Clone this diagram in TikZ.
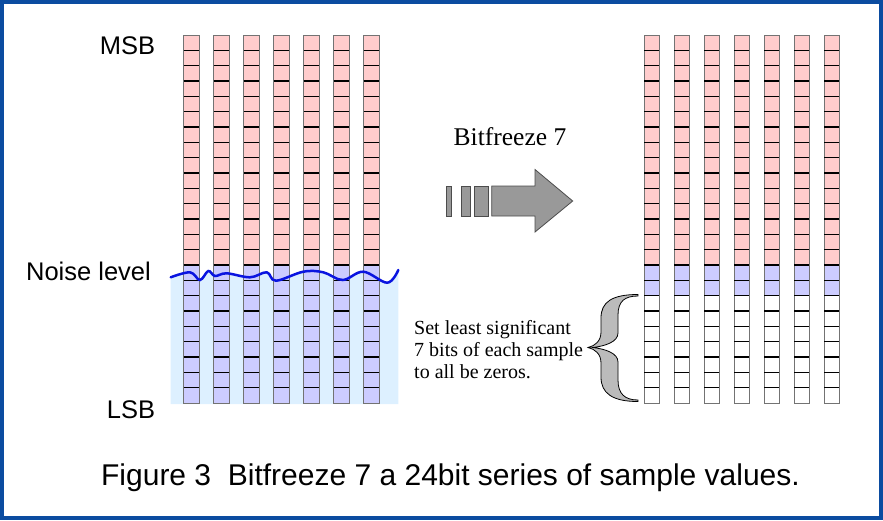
\documentclass[tikz,border=0pt]{standalone}
\usepackage{fontspec}
\setmainfont{Liberation Serif}
\setsansfont{Liberation Sans}
\definecolor{pinkc}{HTML}{FFCCCC}
\definecolor{lavc}{HTML}{CCCCFF}
\definecolor{bgblue}{HTML}{DDF0FF}
\definecolor{wave}{HTML}{0A14E0}
\definecolor{frame}{HTML}{0B4CA0}
\definecolor{arrowgray}{HTML}{999999}
\definecolor{bracegray}{HTML}{BBBBBB}
\begin{document}
\begin{tikzpicture}[x=1pt,y=-1pt,
  cell/.style={minimum height=15.333pt,inner sep=0pt,outer sep=0pt,draw=black!55,line width=0.9pt},
  sepline/.style={draw=black,line width=1.2pt},
  label/.style={font=\sffamily\fontsize{25.5}{28}\selectfont,inner sep=0pt},
  shapegray/.style={fill=arrowgray,draw=black!70,line width=0.8pt}]
\useasboundingbox (0,0) rectangle (883,520);
\draw[frame,line width=4pt] (2,2) rectangle (881,518);
% noise background
\fill[bgblue] plot[smooth,tension=0.6] coordinates {(170.7,277.3) (190,272.3) (200,280) (208.3,271) (215,276) (226.7,273.3) (250,277.3) (266.7,272.3) (276,280.7) (303.3,271.7) (323.3,272.3) (342.7,280) (363.3,271.7) (387.3,282.7) (398.3,270)} -- (398.3,404) -- (170.7,404) -- cycle;
% left columns
\foreach \k in {0,...,6} {
  \foreach \j in {0,...,23} {
    \ifnum\j<15 \def\col{pinkc}\else\def\col{lavc}\fi
    \node[cell,minimum width=15.5pt,fill=\col] (L\k-\j) at ({191.25+30*\k},{35+(\j+0.5)*15.333}) {};
  }
  \foreach \j in {1,...,23} {
    \draw[sepline] (L\k-\j.north west) -- (L\k-\j.north east);
  }
}
% right columns
\foreach \k in {0,...,6} {
  \foreach \j in {0,...,23} {
    \ifnum\j<15 \def\col{pinkc}\else\ifnum\j<17 \def\col{lavc}\else\def\col{white}\fi\fi
    \node[cell,minimum width=15pt,fill=\col] (R\k-\j) at ({651.5+30*\k},{35+(\j+0.5)*15.333}) {};
  }
  \foreach \j in {1,...,23} {
    \draw[sepline] (R\k-\j.north west) -- (R\k-\j.north east);
  }
}
% wave
\draw[wave,line width=2.5pt,line cap=round] plot[smooth,tension=0.6] coordinates {(170.7,277.3) (190,272.3) (200,280) (208.3,271) (215,276) (226.7,273.3) (250,277.3) (266.7,272.3) (276,280.7) (303.3,271.7) (323.3,272.3) (342.7,280) (363.3,271.7) (387.3,282.7) (398.3,270)};
% labels
\node[label] (msb) at (127.5,45.7) {MSB};
\node[label] (noise) at (88.5,271.7) {Noise level};
\node[label] (lsb) at (131,409.3) {LSB};
\node[font=\fontsize{25.5}{28}\selectfont,inner sep=0pt] (bf) at (510,137) {Bitfreeze 7};
% arrow
\draw[shapegray] (446,186) rectangle (451.7,216);
\draw[shapegray] (461,186) rectangle (470.5,216);
\draw[shapegray] (474.7,186) rectangle (488.3,216);
\draw[shapegray] (491.7,186) -- (535,186) -- (535,169.5) -- (572.7,201) -- (535,232) -- (535,216) -- (491.7,216) -- cycle;
% brace
\draw[fill=bracegray,draw=black,line width=0.8pt]
  (638,294.5) .. controls (612,294.5) and (601,302) .. (601,318) -- (601,332)
  .. controls (601,341) and (595,346) .. (588,347.5)
  .. controls (595,349) and (601,354) .. (601,363) -- (601,377)
  .. controls (601,393) and (612,401.5) .. (638,401.5) -- (638,400)
  .. controls (625,400) and (618,394) .. (618,380) -- (618,362)
  .. controls (618,353) and (605,349) .. (593,347.5)
  .. controls (605,346) and (618,342) .. (618,333) -- (618,315)
  .. controls (618,301) and (625,296) .. (638,296) -- cycle;
\node[font=\fontsize{20}{22}\selectfont,align=left,anchor=west,inner sep=0pt] (note) at (414,350) {Set least significant\\7 bits of each sample\\to all be zeros.};
% caption
\node[font=\sffamily\fontsize{30}{34}\selectfont,inner sep=0pt] (cap) at (450.5,477.5) {Figure 3\ \ Bitfreeze 7 a 24bit series of sample values.};
\end{tikzpicture}
\end{document}
